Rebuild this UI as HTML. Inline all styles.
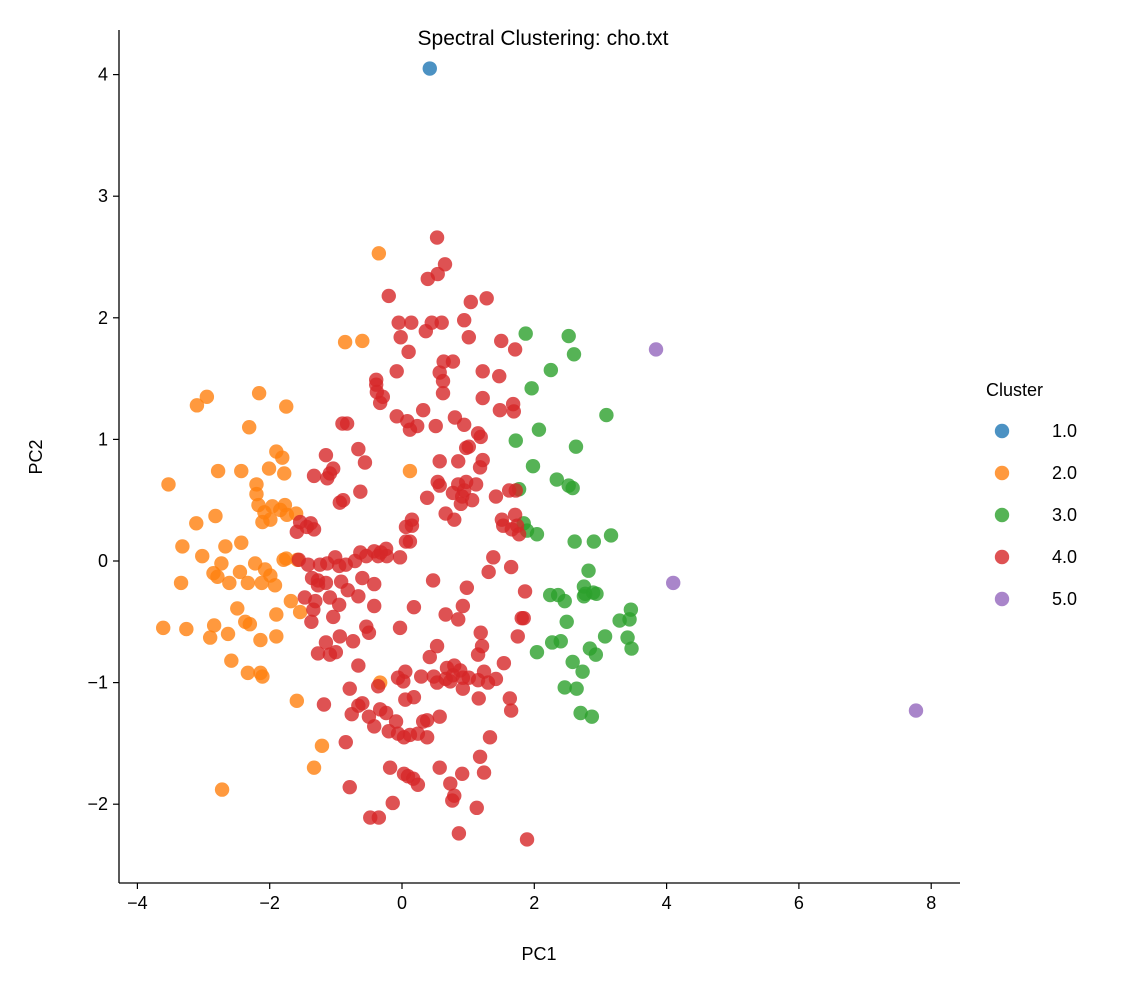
<!DOCTYPE html>
<html><head><meta charset="utf-8">
<style>
body{margin:0;background:#fff;}
svg{display:block;font-family:"Liberation Sans","DejaVu Sans",sans-serif;}
</style></head>
<body>
<svg id="chart" width="1121" height="990" viewBox="0 0 1121 990"></svg>
<script>
const clusterLabels = ["1.0","2.0","3.0","4.0","5.0"];
const clusterColors = ["#1f77b4","#ff7f0e","#2ca02c","#d62728","#9467bd"];
const xTicks = [-4,-2,0,2,4,6,8];
const yTicks = [-2,-1,0,1,2,3,4];
const cluster1 = [[0.42,4.05]];
const cluster5 = [[3.84,1.74],[4.1,-0.18],[7.77,-1.23]];
const cluster3 = [[1.87,1.87],[2.52,1.85],[2.6,1.70],[2.25,1.57],[1.96,1.42],[3.09,1.20],[2.07,1.08],[1.72,0.99],[2.63,0.94],[1.98,0.78],[2.34,0.67],[2.52,0.62],[2.58,0.6],[1.77,0.59],[1.84,0.31],[2.04,0.22],[1.89,0.25],[2.61,0.16],[2.9,0.16],[3.16,0.21],[2.82,-0.08],[2.75,-0.21],[2.24,-0.28],[2.36,-0.28],[2.46,-0.33],[2.75,-0.29],[2.77,-0.27],[2.89,-0.26],[2.94,-0.27],[3.46,-0.4],[3.29,-0.49],[3.44,-0.48],[2.49,-0.5],[3.07,-0.62],[3.41,-0.63],[3.47,-0.72],[2.04,-0.75],[2.27,-0.67],[2.4,-0.66],[2.84,-0.72],[2.93,-0.77],[2.58,-0.83],[2.73,-0.91],[2.46,-1.04],[2.64,-1.05],[2.7,-1.25],[2.87,-1.28]];
const cluster2 = [[-0.35,2.53],[-0.86,1.80],[-0.6,1.81],[-3.1,1.28],[-2.95,1.35],[-2.16,1.38],[-1.75,1.27],[-2.31,1.10],[-3.53,0.63],[-2.78,0.74],[-2.43,0.74],[-1.9,0.90],[-1.81,0.85],[-2.01,0.76],[-1.78,0.72],[0.12,0.74],[-2.2,0.63],[-2.2,0.55],[-2.17,0.46],[-3.11,0.31],[-2.82,0.37],[-2.08,0.40],[-1.96,0.45],[-1.99,0.34],[-1.77,0.46],[-1.74,0.38],[-1.6,0.39],[-1.84,0.42],[-2.11,0.32],[-2.43,0.15],[-3.32,0.12],[-2.67,0.12],[-3.02,0.04],[-2.73,-0.02],[-2.22,-0.02],[-2.07,-0.07],[-1.79,0.01],[-1.75,0.02],[-1.58,0.01],[-1.99,-0.12],[-1.92,-0.2],[-2.85,-0.1],[-2.79,-0.13],[-2.45,-0.09],[-3.34,-0.18],[-2.61,-0.18],[-2.33,-0.18],[-2.12,-0.18],[-1.9,-0.44],[-1.68,-0.33],[-1.54,-0.42],[-3.61,-0.55],[-3.26,-0.56],[-2.84,-0.53],[-2.9,-0.63],[-2.63,-0.6],[-2.37,-0.5],[-2.3,-0.52],[-2.49,-0.39],[-2.14,-0.65],[-1.9,-0.62],[-2.58,-0.82],[-2.33,-0.92],[-2.14,-0.92],[-2.11,-0.95],[-1.59,-1.15],[-0.33,-1.0],[-1.21,-1.52],[-1.33,-1.70],[-2.72,-1.88]];
const cluster4 = [[0.53,2.66],[0.65,2.44],[0.54,2.36],[0.39,2.32],[1.28,2.16],[1.04,2.13],[-0.2,2.18],[0.94,1.98],[-0.05,1.96],[0.14,1.96],[0.45,1.96],[0.6,1.96],[0.36,1.89],[-0.02,1.84],[1.01,1.84],[1.5,1.81],[1.71,1.74],[0.1,1.72],[0.63,1.64],[0.77,1.64],[0.57,1.55],[1.22,1.56],[1.47,1.52],[-0.08,1.56],[-0.39,1.49],[-0.39,1.45],[0.62,1.48],[-0.38,1.39],[0.62,1.38],[-0.33,1.3],[-0.29,1.35],[1.22,1.34],[1.68,1.29],[1.69,1.23],[1.48,1.24],[0.32,1.24],[-0.08,1.19],[0.8,1.18],[0.08,1.15],[0.23,1.11],[0.51,1.11],[0.12,1.08],[0.94,1.12],[-0.83,1.13],[-0.9,1.13],[1.15,1.05],[1.19,1.02],[1.01,0.94],[0.97,0.93],[-1.15,0.87],[-0.66,0.92],[0.57,0.82],[0.85,0.82],[1.22,0.83],[-0.56,0.81],[-1.33,0.70],[-1.09,0.72],[-1.04,0.76],[-1.13,0.68],[1.18,0.77],[0.54,0.65],[0.57,0.62],[0.85,0.63],[0.97,0.65],[1.12,0.63],[0.94,0.58],[1.62,0.58],[1.72,0.58],[0.38,0.52],[-0.63,0.57],[0.77,0.56],[0.91,0.53],[1.06,0.5],[0.89,0.47],[1.42,0.53],[-0.94,0.48],[-0.89,0.5],[0.66,0.39],[0.79,0.34],[0.15,0.34],[0.15,0.29],[0.06,0.28],[0.06,0.16],[0.12,0.16],[1.71,0.38],[1.51,0.34],[1.74,0.29],[1.53,0.29],[1.66,0.26],[1.77,0.22],[-1.54,0.32],[-1.44,0.28],[-1.38,0.31],[-1.33,0.26],[-1.59,0.24],[1.38,0.03],[1.31,-0.09],[1.65,-0.05],[-0.03,0.03],[-1.56,0.01],[-1.13,-0.02],[-1.01,0.03],[-0.95,-0.04],[-0.85,-0.03],[-0.71,0.0],[-0.63,0.07],[-0.54,0.04],[-0.42,0.08],[-0.32,0.07],[-0.23,0.04],[-0.36,0.04],[-0.24,0.10],[-1.42,-0.03],[-1.24,-0.03],[-1.36,-0.14],[-1.27,-0.16],[-1.15,-0.18],[-1.27,-0.2],[-0.6,-0.14],[-0.42,-0.19],[-0.92,-0.17],[-0.82,-0.24],[0.47,-0.16],[0.98,-0.22],[1.86,-0.25],[-1.09,-0.3],[-1.47,-0.3],[-1.31,-0.33],[-0.66,-0.29],[-0.42,-0.37],[0.18,-0.38],[0.92,-0.37],[-0.95,-0.36],[-1.34,-0.4],[-1.37,-0.5],[-1.04,-0.46],[0.66,-0.44],[0.85,-0.48],[1.81,-0.47],[1.84,-0.47],[-0.54,-0.54],[-0.5,-0.59],[-0.03,-0.55],[1.19,-0.59],[-0.94,-0.62],[-0.74,-0.66],[1.75,-0.62],[0.53,-0.7],[1.21,-0.7],[1.15,-0.77],[0.42,-0.79],[-1.27,-0.76],[-1.09,-0.77],[-1.15,-0.67],[-1.0,-0.75],[1.54,-0.84],[-0.66,-0.86],[0.79,-0.86],[0.68,-0.88],[0.88,-0.9],[0.05,-0.91],[-0.06,-0.96],[0.02,-0.99],[0.29,-0.95],[0.48,-0.95],[0.66,-0.97],[0.77,-0.94],[0.92,-0.96],[1.01,-0.96],[1.24,-0.91],[1.15,-0.98],[0.53,-1.0],[0.73,-0.99],[1.3,-1.0],[1.42,-0.97],[0.92,-1.05],[-0.36,-1.03],[-0.79,-1.05],[1.16,-1.13],[-1.18,-1.18],[-0.66,-1.19],[-0.6,-1.17],[1.63,-1.13],[0.05,-1.14],[0.18,-1.12],[0.57,-1.28],[-0.5,-1.28],[-0.76,-1.26],[-0.24,-1.25],[-0.33,-1.22],[1.65,-1.23],[-0.42,-1.36],[0.32,-1.32],[0.38,-1.31],[-0.2,-1.4],[-0.09,-1.32],[0.03,-1.45],[0.12,-1.43],[0.24,-1.42],[0.38,-1.45],[-0.06,-1.42],[1.33,-1.45],[-0.85,-1.49],[1.18,-1.61],[-0.18,-1.70],[0.57,-1.70],[1.24,-1.74],[0.91,-1.75],[0.03,-1.75],[0.09,-1.77],[0.17,-1.79],[0.24,-1.84],[0.73,-1.83],[0.79,-1.93],[0.76,-1.97],[1.13,-2.03],[-0.14,-1.99],[-0.79,-1.86],[-0.48,-2.11],[-0.35,-2.11],[0.86,-2.24],[1.89,-2.29]];
const clusters = [cluster1, cluster2, cluster3, cluster4, cluster5];

const NS = "http://www.w3.org/2000/svg";
const svg = document.getElementById("chart");
const X0 = 402, XS = 66.15, Y0 = 561, YS = 121.6;
function xPos(v){ return X0 + v*XS; }
function yPos(v){ return Y0 - v*YS; }
function mk(tag, attrs, parent){
  const e = document.createElementNS(NS, tag);
  for (const k in attrs) e.setAttribute(k, attrs[k]);
  (parent||svg).appendChild(e);
  return e;
}
const L = 119, R = 960, T = 30, B = 883;

clusters.forEach((pts, ci) => {
  const g = mk("g", {});
  
  
  pts.forEach(p => {
    const c = mk("circle", {cx: xPos(p[0]), cy: yPos(p[1]), r: 7.2, fill: clusterColors[ci], "fill-opacity": 0.8}, g);
    
    
  });
});

const ls = mk("line", {x1: L, y1: T, x2: L, y2: B, stroke: "#000", "stroke-width": 1.3});


const bs = mk("line", {x1: L, y1: B, x2: R, y2: B, stroke: "#000", "stroke-width": 1.3});



xTicks.forEach(t => {
  const x = xPos(t);
  const tk = mk("line", {x1: x, y1: B, x2: x, y2: B+6, stroke: "#000", "stroke-width": 1.2});
  
  
  const tx = mk("text", {x: x, y: B+26, "text-anchor": "middle", "font-size": 18});
  tx.textContent = (t < 0 ? "\u2212" + (-t) : t);
  
  
});
yTicks.forEach(t => {
  const y = yPos(t);
  const tk = mk("line", {x1: L-6, y1: y, x2: L, y2: y, stroke: "#000", "stroke-width": 1.2});
  
  
  const tx = mk("text", {x: L-11, y: y+6, "text-anchor": "end", "font-size": 18});
  tx.textContent = (t < 0 ? "\u2212" + (-t) : t);
  
  
});

const xt = mk("text", {x: 539, y: 960, "text-anchor": "middle", "font-size": 18});
xt.textContent = "PC1";


const yt = mk("text", {x: 42, y: 457, "text-anchor": "middle", "font-size": 18, transform: "rotate(-90 42 457)"});
yt.textContent = "PC2";


const tt = mk("text", {x: 543, y: 45, "text-anchor": "middle", "font-size": 21});
tt.textContent = "Spectral Clustering: cho.txt";



const lg = mk("g", {});


const lt = mk("text", {x: 986, y: 396, "font-size": 18}, lg);
lt.textContent = "Cluster";


clusterLabels.forEach((lab, i) => {
  const y = 431 + i*42;
  const c = mk("circle", {cx: 1002, cy: y, r: 7.2, fill: clusterColors[i], "fill-opacity": 0.8}, lg);
  
  
  const t = mk("text", {x: 1052, y: y+6, "font-size": 18}, lg);
  t.textContent = lab;
  
  
});
</script>
</body></html>
